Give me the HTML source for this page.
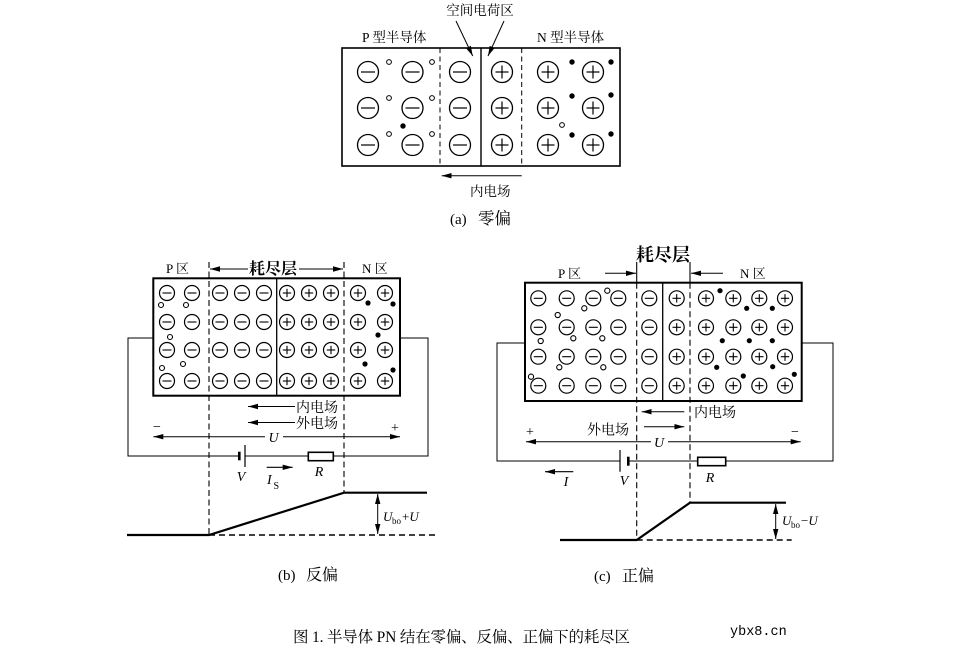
<!DOCTYPE html>
<html><head><meta charset="utf-8"><style>
html,body{margin:0;padding:0;background:#fff;}
svg{display:block;}
text{font-family:"Liberation Serif","Noto Serif CJK SC",serif;fill:#000;}
.it{font-style:italic;}
</style></head><body>
<svg width="958" height="660" viewBox="0 0 958 660" xmlns="http://www.w3.org/2000/svg">
<defs>
<marker id="ah" viewBox="0 0 10 6" refX="10" refY="3" markerWidth="10" markerHeight="6" orient="auto-start-reverse" markerUnits="userSpaceOnUse"><path d="M0,0.3 L10,3 L0,5.7 z" fill="#000"/></marker>
<g id="ma"><circle r="10.5" fill="none" stroke="#000" stroke-width="1.3"/><line x1="-7" y1="0" x2="7" y2="0" stroke="#000" stroke-width="1.2"/></g>
<g id="pa"><circle r="10.5" fill="none" stroke="#000" stroke-width="1.3"/><line x1="-6.5" y1="0" x2="6.5" y2="0" stroke="#000" stroke-width="1.2"/><line x1="0" y1="-6.5" x2="0" y2="6.5" stroke="#000" stroke-width="1.2"/></g>
<g id="mb"><circle r="7.5" fill="none" stroke="#000" stroke-width="1.2"/><line x1="-4.5" y1="0" x2="4.5" y2="0" stroke="#000" stroke-width="1.1"/></g>
<g id="pb"><circle r="7.5" fill="none" stroke="#000" stroke-width="1.2"/><line x1="-4.2" y1="0" x2="4.2" y2="0" stroke="#000" stroke-width="1.1"/><line x1="0" y1="-4.2" x2="0" y2="4.2" stroke="#000" stroke-width="1.1"/></g>
</defs>

<!-- ================= (a) ================= -->
<text x="480" y="15" font-size="13.5" text-anchor="middle">空间电荷区</text>
<text x="362" y="42" font-size="13.5">P 型半导体</text>
<text x="537" y="42" font-size="13.5">N 型半导体</text>
<line x1="456" y1="21" x2="472.7" y2="56" stroke="#000" stroke-width="1" marker-end="url(#ah)"/>
<line x1="504" y1="21" x2="488" y2="56" stroke="#000" stroke-width="1" marker-end="url(#ah)"/>
<rect x="342" y="48" width="278" height="118" fill="none" stroke="#000" stroke-width="1.6"/>
<line x1="440" y1="48" x2="440" y2="166" stroke="#000" stroke-width="1" stroke-dasharray="5,3.5"/>
<line x1="481" y1="48" x2="481" y2="166" stroke="#000" stroke-width="1.4"/>
<line x1="521.7" y1="48" x2="521.7" y2="166" stroke="#000" stroke-width="1" stroke-dasharray="5,3.5"/>
<use href="#ma" x="368" y="72"/><use href="#ma" x="412.5" y="72"/><use href="#ma" x="460" y="72"/>
<use href="#pa" x="502" y="72"/><use href="#pa" x="548" y="72"/><use href="#pa" x="593" y="72"/>
<use href="#ma" x="368" y="108"/><use href="#ma" x="412.5" y="108"/><use href="#ma" x="460" y="108"/>
<use href="#pa" x="502" y="108"/><use href="#pa" x="548" y="108"/><use href="#pa" x="593" y="108"/>
<use href="#ma" x="368" y="145"/><use href="#ma" x="412.5" y="145"/><use href="#ma" x="460" y="145"/>
<use href="#pa" x="502" y="145"/><use href="#pa" x="548" y="145"/><use href="#pa" x="593" y="145"/>
<g fill="none" stroke="#000" stroke-width="1">
<circle cx="389" cy="62" r="2.4"/><circle cx="432" cy="62" r="2.4"/>
<circle cx="389" cy="98" r="2.4"/><circle cx="432" cy="98" r="2.4"/>
<circle cx="389" cy="134" r="2.4"/><circle cx="432" cy="134" r="2.4"/>
<circle cx="562" cy="125" r="2.4"/>
</g>
<g fill="#000">
<circle cx="403" cy="126" r="2.7"/>
<circle cx="572" cy="62" r="2.7"/><circle cx="611" cy="62" r="2.7"/>
<circle cx="572" cy="96" r="2.7"/><circle cx="611" cy="95" r="2.7"/>
<circle cx="572" cy="135" r="2.7"/><circle cx="611" cy="134" r="2.7"/>
</g>
<line x1="521.7" y1="175.7" x2="441.7" y2="175.7" stroke="#000" stroke-width="1" marker-end="url(#ah)"/>
<text x="470" y="196" font-size="13.5">内电场</text>
<text x="450" y="224" font-size="15">(a)</text>
<text x="478" y="224" font-size="16.5">零偏</text>

<!-- ================= (b) ================= -->
<text x="166" y="273" font-size="13">P 区</text>
<text x="362" y="273" font-size="13">N 区</text>
<text x="273" y="274" font-size="16" text-anchor="middle" font-weight="bold">耗尽层</text>
<line x1="248" y1="269" x2="210" y2="269" stroke="#000" stroke-width="1" marker-end="url(#ah)"/>
<line x1="299" y1="269" x2="343" y2="269" stroke="#000" stroke-width="1" marker-end="url(#ah)"/>
<!-- wires -->
<polyline points="153,338 128,338 128,456 239.3,456" fill="none" stroke="#000" stroke-width="1"/>
<polyline points="245,456 308.3,456" fill="none" stroke="#000" stroke-width="1"/>
<polyline points="333.3,456 428,456 428,338 400,338" fill="none" stroke="#000" stroke-width="1"/>
<line x1="239.3" y1="451.7" x2="239.3" y2="460.3" stroke="#000" stroke-width="2.6"/>
<line x1="245" y1="445" x2="245" y2="467" stroke="#000" stroke-width="1.2"/>
<rect x="308.3" y="452.3" width="25" height="8.4" fill="#fff" stroke="#000" stroke-width="1.6"/>
<!-- rect -->
<rect x="153.3" y="278.3" width="246.7" height="117.4" fill="none" stroke="#000" stroke-width="2"/>
<line x1="209" y1="262" x2="209" y2="535" stroke="#000" stroke-width="1.1" stroke-dasharray="6,3.5"/>
<line x1="276.7" y1="278.3" x2="276.7" y2="395.7" stroke="#000" stroke-width="1.3"/>
<line x1="344" y1="262" x2="344" y2="492.7" stroke="#000" stroke-width="1.1" stroke-dasharray="6,3.5"/>
<g>
<use href="#mb" x="167" y="293"/><use href="#mb" x="192" y="293"/><use href="#mb" x="220" y="293"/><use href="#mb" x="242" y="293"/><use href="#mb" x="264" y="293"/>
<use href="#pb" x="287" y="293"/><use href="#pb" x="309" y="293"/><use href="#pb" x="331" y="293"/><use href="#pb" x="358" y="293"/><use href="#pb" x="385" y="293"/>
<use href="#mb" x="167" y="322"/><use href="#mb" x="192" y="322"/><use href="#mb" x="220" y="322"/><use href="#mb" x="242" y="322"/><use href="#mb" x="264" y="322"/>
<use href="#pb" x="287" y="322"/><use href="#pb" x="309" y="322"/><use href="#pb" x="331" y="322"/><use href="#pb" x="358" y="322"/><use href="#pb" x="385" y="322"/>
<use href="#mb" x="167" y="350"/><use href="#mb" x="192" y="350"/><use href="#mb" x="220" y="350"/><use href="#mb" x="242" y="350"/><use href="#mb" x="264" y="350"/>
<use href="#pb" x="287" y="350"/><use href="#pb" x="309" y="350"/><use href="#pb" x="331" y="350"/><use href="#pb" x="358" y="350"/><use href="#pb" x="385" y="350"/>
<use href="#mb" x="167" y="381"/><use href="#mb" x="192" y="381"/><use href="#mb" x="220" y="381"/><use href="#mb" x="242" y="381"/><use href="#mb" x="264" y="381"/>
<use href="#pb" x="287" y="381"/><use href="#pb" x="309" y="381"/><use href="#pb" x="331" y="381"/><use href="#pb" x="358" y="381"/><use href="#pb" x="385" y="381"/>
</g>
<g fill="none" stroke="#000" stroke-width="1.1">
<circle cx="161" cy="305" r="2.5"/><circle cx="186" cy="305" r="2.5"/><circle cx="170" cy="337" r="2.5"/><circle cx="162" cy="368" r="2.5"/><circle cx="183" cy="364" r="2.5"/>
</g>
<g fill="#000">
<circle cx="368" cy="303" r="2.6"/><circle cx="393" cy="304" r="2.6"/><circle cx="378" cy="335" r="2.6"/><circle cx="365" cy="364" r="2.6"/><circle cx="393" cy="370" r="2.6"/>
</g>
<!-- fields -->
<line x1="295" y1="406.5" x2="248" y2="406.5" stroke="#000" stroke-width="1" marker-end="url(#ah)"/>
<text x="296" y="412" font-size="14">内电场</text>
<line x1="295" y1="422.5" x2="248" y2="422.5" stroke="#000" stroke-width="1" marker-end="url(#ah)"/>
<text x="296" y="428" font-size="14">外电场</text>
<line x1="265" y1="436.7" x2="153.3" y2="436.7" stroke="#000" stroke-width="1" marker-end="url(#ah)"/>
<line x1="283" y1="436.7" x2="400" y2="436.7" stroke="#000" stroke-width="1" marker-end="url(#ah)"/>
<text x="273.5" y="442" font-size="14" class="it" text-anchor="middle">U</text>
<text x="157" y="431" font-size="14" text-anchor="middle">−</text>
<text x="395" y="432" font-size="14" text-anchor="middle">+</text>
<line x1="266.7" y1="467.3" x2="292.7" y2="467.3" stroke="#000" stroke-width="1.1" marker-end="url(#ah)"/>
<text x="267" y="484" font-size="14" class="it">I</text><text x="273.5" y="489" font-size="10">S</text>
<text x="241" y="481" font-size="14" class="it" text-anchor="middle">V</text>
<text x="319" y="476" font-size="14" class="it" text-anchor="middle">R</text>
<!-- band -->
<polyline points="127,535 209,535 344,492.7 427,492.7" fill="none" stroke="#000" stroke-width="2.2"/>
<line x1="209" y1="535" x2="438" y2="535" stroke="#000" stroke-width="1.4" stroke-dasharray="6,4"/>
<line x1="377.7" y1="494" x2="377.7" y2="534" stroke="#000" stroke-width="1" marker-start="url(#ah)" marker-end="url(#ah)"/>
<text x="383" y="521" font-size="13" class="it">U</text><text x="392" y="524" font-size="9">bo</text><text x="402" y="521" font-size="13">+<tspan class="it">U</tspan></text>
<text x="278" y="580" font-size="15">(b)</text>
<text x="306" y="580" font-size="16">反偏</text>

<!-- ================= (c) ================= -->
<text x="663" y="261" font-size="18" text-anchor="middle" font-weight="bold">耗尽层</text>
<text x="558" y="278" font-size="13">P 区</text>
<text x="740" y="278" font-size="13">N 区</text>
<line x1="605" y1="273.3" x2="636" y2="273.3" stroke="#000" stroke-width="1" marker-end="url(#ah)"/>
<line x1="723" y1="273.3" x2="691" y2="273.3" stroke="#000" stroke-width="1" marker-end="url(#ah)"/>
<!-- wires -->
<polyline points="525,343 497,343 497,461 620,461" fill="none" stroke="#000" stroke-width="1"/>
<polyline points="628.3,461 697.7,461" fill="none" stroke="#000" stroke-width="1"/>
<polyline points="725.7,461 833,461 833,343 801.7,343" fill="none" stroke="#000" stroke-width="1"/>
<line x1="620" y1="450" x2="620" y2="471.7" stroke="#000" stroke-width="1.2"/>
<line x1="628.3" y1="456.7" x2="628.3" y2="465.7" stroke="#000" stroke-width="2.6"/>
<rect x="697.7" y="457.3" width="28" height="8.4" fill="#fff" stroke="#000" stroke-width="1.6"/>
<!-- rect -->
<rect x="525" y="282.7" width="276.7" height="118.3" fill="none" stroke="#000" stroke-width="2"/>
<line x1="636.7" y1="262" x2="636.7" y2="282.7" stroke="#000" stroke-width="1.1"/>
<line x1="690" y1="262" x2="690" y2="282.7" stroke="#000" stroke-width="1.1"/>
<line x1="636.7" y1="282.7" x2="636.7" y2="540" stroke="#000" stroke-width="1.1" stroke-dasharray="6,3.5"/>
<line x1="690" y1="282.7" x2="690" y2="502.7" stroke="#000" stroke-width="1.1" stroke-dasharray="6,3.5"/>
<line x1="662.7" y1="282.7" x2="662.7" y2="401" stroke="#000" stroke-width="1.3"/>
<g>
<use href="#mb" x="538.3" y="298.3"/><use href="#mb" x="566.7" y="298.3"/><use href="#mb" x="593.3" y="298.3"/><use href="#mb" x="618.3" y="298.3"/><use href="#mb" x="649.3" y="298.3"/>
<use href="#pb" x="676.7" y="298.3"/><use href="#pb" x="706" y="298.3"/><use href="#pb" x="733.3" y="298.3"/><use href="#pb" x="759.3" y="298.3"/><use href="#pb" x="785" y="298.3"/>
<use href="#mb" x="538.3" y="327.3"/><use href="#mb" x="566.7" y="327.3"/><use href="#mb" x="593.3" y="327.3"/><use href="#mb" x="618.3" y="327.3"/><use href="#mb" x="649.3" y="327.3"/>
<use href="#pb" x="676.7" y="327.3"/><use href="#pb" x="706" y="327.3"/><use href="#pb" x="733.3" y="327.3"/><use href="#pb" x="759.3" y="327.3"/><use href="#pb" x="785" y="327.3"/>
<use href="#mb" x="538.3" y="356.7"/><use href="#mb" x="566.7" y="356.7"/><use href="#mb" x="593.3" y="356.7"/><use href="#mb" x="618.3" y="356.7"/><use href="#mb" x="649.3" y="356.7"/>
<use href="#pb" x="676.7" y="356.7"/><use href="#pb" x="706" y="356.7"/><use href="#pb" x="733.3" y="356.7"/><use href="#pb" x="759.3" y="356.7"/><use href="#pb" x="785" y="356.7"/>
<use href="#mb" x="538.3" y="385.7"/><use href="#mb" x="566.7" y="385.7"/><use href="#mb" x="593.3" y="385.7"/><use href="#mb" x="618.3" y="385.7"/><use href="#mb" x="649.3" y="385.7"/>
<use href="#pb" x="676.7" y="385.7"/><use href="#pb" x="706" y="385.7"/><use href="#pb" x="733.3" y="385.7"/><use href="#pb" x="759.3" y="385.7"/><use href="#pb" x="785" y="385.7"/>
</g>
<g fill="none" stroke="#000" stroke-width="1.1">
<circle cx="607.3" cy="290.7" r="2.6"/><circle cx="584.3" cy="308.3" r="2.6"/><circle cx="557.7" cy="315" r="2.6"/>
<circle cx="540.7" cy="341" r="2.6"/><circle cx="573.3" cy="338.3" r="2.6"/><circle cx="602.3" cy="338.3" r="2.6"/>
<circle cx="559.3" cy="367.3" r="2.6"/><circle cx="603.3" cy="367.3" r="2.6"/><circle cx="531" cy="376.7" r="2.6"/>
</g>
<g fill="#000">
<circle cx="720" cy="290.7" r="2.6"/><circle cx="746.7" cy="308.3" r="2.6"/><circle cx="772.3" cy="308.3" r="2.6"/>
<circle cx="722.3" cy="340.7" r="2.6"/><circle cx="749.3" cy="340.7" r="2.6"/><circle cx="772.3" cy="340.7" r="2.6"/>
<circle cx="716.7" cy="367.3" r="2.6"/><circle cx="772.7" cy="366.7" r="2.6"/><circle cx="743.3" cy="376" r="2.6"/><circle cx="794.3" cy="374.3" r="2.6"/>
</g>
<!-- fields -->
<line x1="684.3" y1="411.7" x2="641.7" y2="411.7" stroke="#000" stroke-width="1" marker-end="url(#ah)"/>
<text x="694" y="417" font-size="14">内电场</text>
<text x="587" y="434.5" font-size="14">外电场</text>
<line x1="644" y1="426.7" x2="684.3" y2="426.7" stroke="#000" stroke-width="1" marker-end="url(#ah)"/>
<line x1="651" y1="441.7" x2="526" y2="441.7" stroke="#000" stroke-width="1" marker-end="url(#ah)"/>
<line x1="668" y1="441.7" x2="800.7" y2="441.7" stroke="#000" stroke-width="1" marker-end="url(#ah)"/>
<text x="659" y="447" font-size="14" class="it" text-anchor="middle">U</text>
<text x="530" y="436" font-size="14" text-anchor="middle">+</text>
<text x="795" y="436" font-size="14" text-anchor="middle">−</text>
<line x1="573.3" y1="471.7" x2="545" y2="471.7" stroke="#000" stroke-width="1.1" marker-end="url(#ah)"/>
<text x="566" y="486" font-size="14" class="it" text-anchor="middle">I</text>
<text x="624" y="485" font-size="14" class="it" text-anchor="middle">V</text>
<text x="710" y="482" font-size="14" class="it" text-anchor="middle">R</text>
<!-- band -->
<polyline points="560,540 636.7,540 690,502.7 786,502.7" fill="none" stroke="#000" stroke-width="2.2"/>
<line x1="636.7" y1="540" x2="791.7" y2="540" stroke="#000" stroke-width="1.4" stroke-dasharray="6,4"/>
<line x1="775.7" y1="504" x2="775.7" y2="539" stroke="#000" stroke-width="1" marker-start="url(#ah)" marker-end="url(#ah)"/>
<text x="782" y="525" font-size="13" class="it">U</text><text x="791" y="528" font-size="9">bo</text><text x="801" y="525" font-size="13">−<tspan class="it">U</tspan></text>
<text x="594" y="581" font-size="15">(c)</text>
<text x="622" y="581" font-size="16">正偏</text>

<!-- caption -->
<text x="293" y="642" font-size="15.5" textLength="337" lengthAdjust="spacing">图 1. 半导体 PN 结在零偏、反偏、正偏下的耗尽区</text>
<text x="730" y="635" font-size="13.5" style="font-family:'Liberation Mono',monospace;">ybx8.cn</text>
</svg>
</body></html>
